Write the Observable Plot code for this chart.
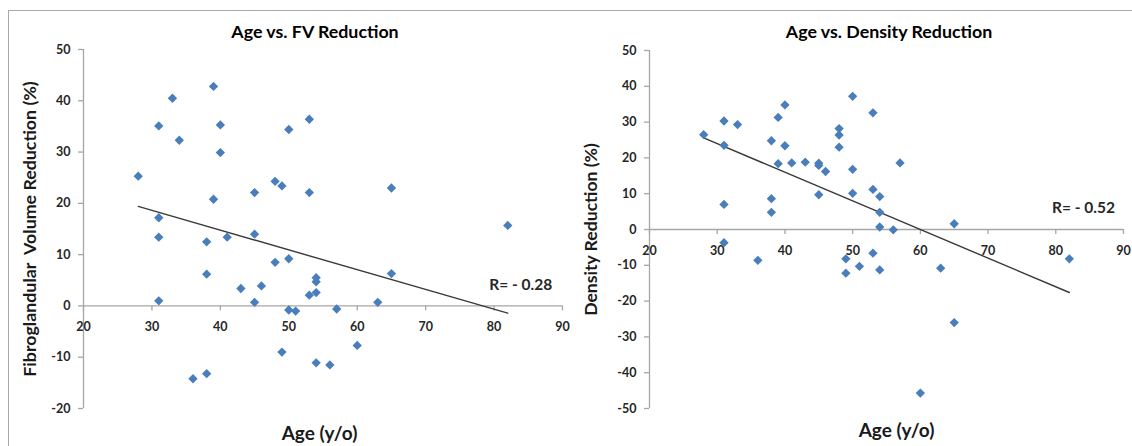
<!DOCTYPE html>
<html>
<head>
<meta charset="utf-8">
<script src="https://cdn.jsdelivr.net/npm/d3@7"></script>
<script src="https://cdn.jsdelivr.net/npm/@observablehq/plot@0.6"></script>
<style>
  html, body { margin: 0; padding: 0; background: #ffffff; }
  #wrap { position: relative; width: 1132px; height: 446px; overflow: hidden; background: #ffffff; }
  #border { position: absolute; left: 8px; top: 10px; width: 1300px; height: 1000px; border: 1.5px solid #a8a8a8; box-sizing: border-box; }
  #left, #right { position: absolute; top: 0; }
  #left { left: 0; }
  #right { left: 560px; }
</style>
</head>
<body>
<div id="wrap">
  <div id="border"></div>
  <div id="left"></div>
  <div id="right"></div>
</div>
<script>
// ---- Data ----
const xTicks = [20, 30, 40, 50, 60, 70, 80, 90];
const fvTicks = [-20, -10, 0, 10, 20, 30, 40, 50];
const densTicks = [-50, -40, -30, -20, -10, 0, 10, 20, 30, 40, 50];

const fvAge = [28,31,31,31,31,33,34,36,38,38,38,39,39,40,40,41,43,45,45,45,46,48,48,49,49,50,50,50,51,53,53,53,54,54,54,54,56,57,60,63,65,65,82];
const fvValue = [25.3,35.1,17.2,13.4,1.0,40.5,32.3,-14.2,12.5,6.2,-13.2,42.8,20.8,35.3,29.9,13.4,3.4,22.1,14.0,0.7,3.9,24.3,8.5,23.4,-9.0,34.4,9.2,-0.8,-1.0,36.4,22.1,2.1,5.5,4.7,2.6,-11.1,-11.5,-0.6,-7.7,0.7,23.0,6.3,15.7];

const densAge = [28,31,31,31,31,33,36,38,38,38,39,39,40,40,41,43,45,45,45,46,48,48,48,49,49,50,50,50,51,53,53,53,54,54,54,54,56,57,60,63,65,65,82];
const densValue = [26.5,30.3,23.5,7.0,-3.7,29.3,-8.6,24.8,8.6,4.8,31.3,18.4,34.8,23.4,18.6,18.8,18.5,17.9,9.7,16.2,28.2,26.4,23.0,-8.2,-12.2,37.2,16.8,10.1,-10.3,32.6,11.2,-6.6,9.2,4.8,0.7,-11.3,-0.1,18.6,-45.7,-10.8,1.6,-26.0,-8.2];

const fvTrendAge = [28, 82];
const fvTrendValue = [19.4, -1.4];
const densTrendAge = [28, 82];
const densTrendValue = [25.6, -17.6];

const fvTitle = "Age vs. FV Reduction";
const densTitle = "Age vs. Density Reduction";
const fvYLabel = "Fibroglandular  Volume Reduction (%)";
const densYLabel = "Density Reduction (%)";
const xLabel = "Age (y/o)";
const fvR = "R= - 0.28";
const densR = "R= - 0.52";

// ---- Drawing ----
const FONT = "Lato, 'Open Sans', sans-serif";
const AXIS = "#a6a6a6";
const TICKTXT = "#262626";
const DOT = "#4a7ebb";

function zip(a, b) { return a.map((v, i) => ({age: v, value: b[i]})); }

function chart(cfg) {
  const pts = zip(cfg.age, cfg.value);
  const trend = zip(cfg.trendAge, cfg.trendValue);
  return Plot.plot({
    width: cfg.width,
    height: 446,
    marginLeft: cfg.marginLeft,
    marginRight: cfg.marginRight,
    marginTop: cfg.marginTop,
    marginBottom: 38,
    style: {background: "transparent", overflow: "visible", fontFamily: FONT},
    x: {domain: [20, 90], axis: null},
    y: {domain: [cfg.yTicks[0], cfg.yTicks[cfg.yTicks.length - 1]], axis: null},
    marks: [
      // axis lines
      Plot.ruleY([0], {stroke: AXIS, strokeWidth: 1.3}),
      Plot.ruleX([20], {stroke: AXIS, strokeWidth: 1.3}),
      // x ticks (down from the zero line)
      Plot.ruleX(xTicks, {x: d => d, y1: 0, y2: 0, insetBottom: -5, stroke: AXIS, strokeWidth: 1.3}),
      // y ticks (left of the axis)
      Plot.ruleY(cfg.yTicks, {y: d => d, x1: 20, x2: 20, insetLeft: -5, stroke: AXIS, strokeWidth: 1.3}),
      // tick labels
      Plot.text(xTicks, {x: d => d, y: 0, dy: 21, text: d => String(d), fontSize: 12.5, fontWeight: "bold", fill: TICKTXT}),
      Plot.text(cfg.yTicks, {x: 20, y: d => d, dx: -13, textAnchor: "end", text: d => String(d), fontSize: 12.5, fontWeight: "bold", fill: TICKTXT}),
      // trend line
      Plot.line(trend, {x: "age", y: "value", stroke: "#3a3a3a", strokeWidth: 1.4}),
      // points
      Plot.dot(pts, {x: "age", y: "value", symbol: "diamond2", r: 4.2, fill: DOT, stroke: "none"}),
      // R label
      Plot.text([cfg.r], {x: cfg.rX, y: cfg.rY, text: d => d, fontSize: 15.5, fontWeight: "bold", fill: "#262626"}),
      // title
      Plot.text([cfg.title], {frameAnchor: "top", lineAnchor: "middle", dx: cfg.titleDx, dy: cfg.titleDy, text: d => d, fontSize: 17.8, fontWeight: "bold", fill: "#000000"}),
      // x label
      Plot.text([xLabel], {frameAnchor: "bottom", lineAnchor: "middle", dx: cfg.xlDx, dy: cfg.xlDy, text: d => d, fontSize: 19, fontWeight: "bold", fill: "#1a1a1a"}),
      // y label
      Plot.text([cfg.yLabel], {frameAnchor: "left", textAnchor: "middle", dx: cfg.ylDx, rotate: -90, text: d => d, fontSize: cfg.ylSize, fontWeight: "bold", fill: "#1a1a1a"})
    ]
  });
}

document.getElementById("left").appendChild(chart({
  width: 580, marginLeft: 83, marginRight: 18, marginTop: 49,
  age: fvAge, value: fvValue, trendAge: fvTrendAge, trendValue: fvTrendValue,
  yTicks: fvTicks, r: fvR, rX: 83.9, rY: 4.1,
  title: fvTitle, titleDx: -8, titleDy: -17,
  xlDx: -3.5, xlDy: 25, yLabel: fvYLabel, ylDx: -53, ylSize: 17.8
}));

document.getElementById("right").appendChild(chart({
  width: 572, marginLeft: 89, marginRight: 9, marginTop: 50,
  age: densAge, value: densValue, trendAge: densTrendAge, trendValue: densTrendValue,
  yTicks: densTicks, r: densR, rX: 84.1, rY: 5.9,
  title: densTitle, titleDx: 2.5, titleDy: -18,
  xlDx: 10, xlDy: 22, yLabel: densYLabel, ylDx: -58, ylSize: 17.6
}));
</script>
</body>
</html>
